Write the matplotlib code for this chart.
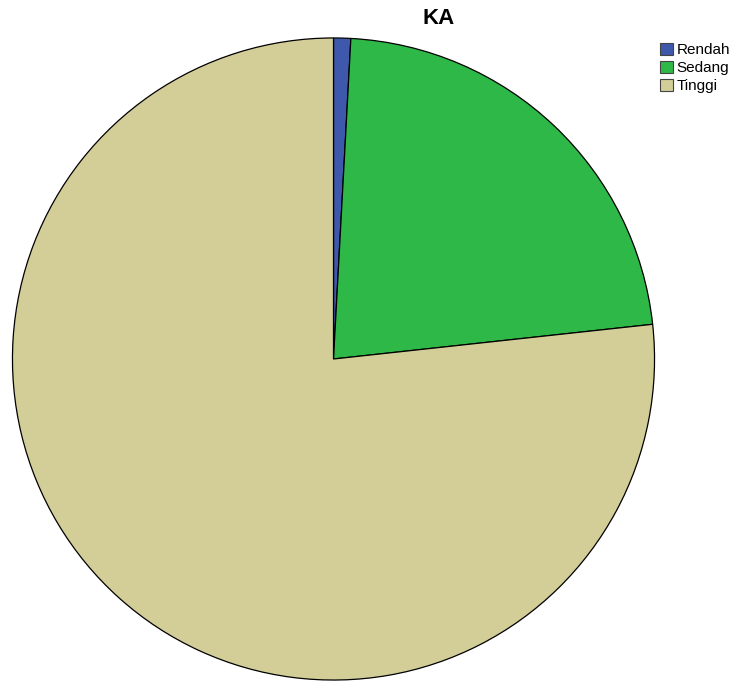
import matplotlib.pyplot as plt
from matplotlib.patches import Patch

# data
kategori = ["Rendah", "Sedang", "Tinggi"]
jumlah = [1, 26, 89]
warna = ["#3E58AC", "#2EB848", "#D3CE97"]

W, H = 735, 683
fig = plt.figure(figsize=(W / 100, H / 100), dpi=100)

cx, cy, r = 333.5, 359, 322
ax = fig.add_axes([(cx - r) / W, (H - cy - r) / H, 2 * r / W, 2 * r / H])
ax.pie(jumlah, colors=warna, startangle=90, counterclock=False, radius=1,
       wedgeprops={"edgecolor": "black", "linewidth": 0.9})
ax.set_xlim(-1.003, 1.003)
ax.set_ylim(-1.003, 1.003)
ax.set_aspect("equal")
ax.axis("off")

fig.text(439 / W, 1 - 19 / H, "KA", ha="center", va="center",
         fontsize=16, fontweight="bold", family="Liberation Sans")

handles = [Patch(facecolor=c, edgecolor="#444444", linewidth=0.8) for c in warna]
fig.legend(handles, kategori, loc="upper left", bbox_to_anchor=(649 / W, 1 - 32 / H),
           frameon=False, handlelength=0.9, handleheight=0.85,
           handletextpad=0.2, labelspacing=0.25, borderpad=0.2,
           prop={"family": "Liberation Sans", "size": 11})

fig.savefig("out.png", dpi=100)
